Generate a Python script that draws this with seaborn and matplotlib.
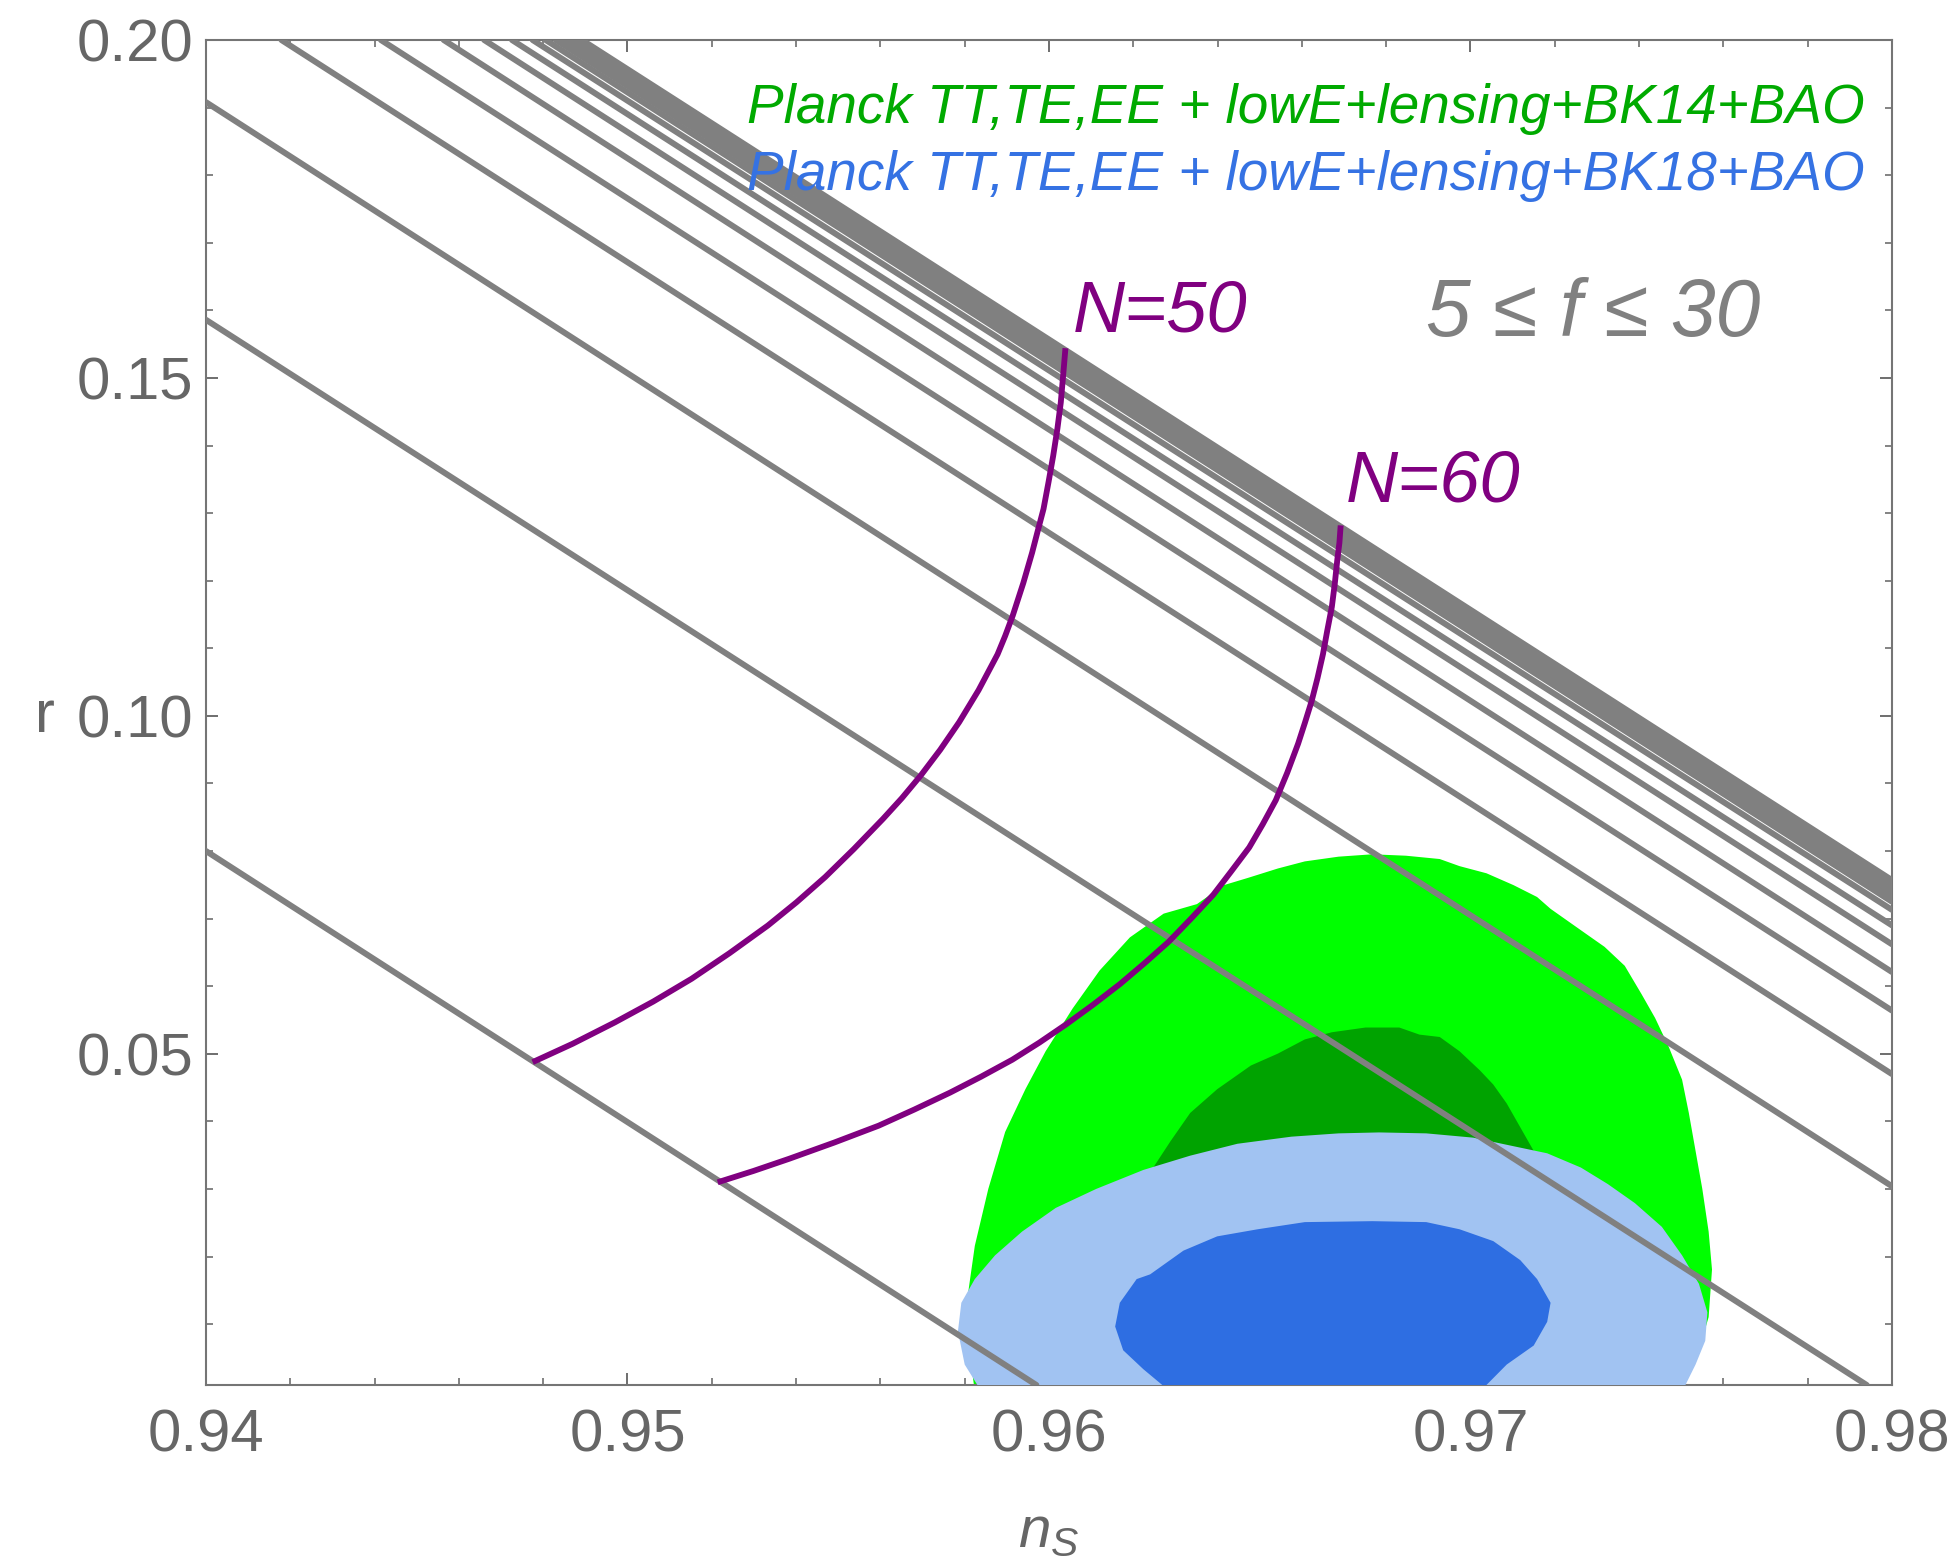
import numpy as np
import pandas as pd
import matplotlib
matplotlib.use("Agg")
import matplotlib.pyplot as plt
import seaborn as sns

# ---------------- data ----------------
x_ticks = [0.94, 0.95, 0.96, 0.97, 0.98]
x_tick_labels = ["0.94", "0.95", "0.96", "0.97", "0.98"]
y_ticks = [0.05, 0.10, 0.15, 0.20]
y_tick_labels = ["0.05", "0.10", "0.15", "0.20"]

# gray model lines (5 <= f <= 30): entry point and exit point on the frame
gray_ns_a = [0.9400, 0.9400, 0.9400, 0.94179, 0.94415, 0.94564, 0.94660, 0.94726,
             0.94775, 0.94806, 0.94830, 0.94845, 0.94860, 0.94870, 0.94878, 0.94885, 0.94892]
gray_r_a = [0.0800, 0.1586, 0.1908, 0.2000, 0.2000, 0.2000, 0.2000, 0.2000,
            0.2000, 0.2000, 0.2000, 0.2000, 0.2000, 0.2000, 0.2000, 0.2000, 0.2000]
gray_ns_b = [0.9597, 0.9794, 0.9800, 0.9800, 0.9800, 0.9800, 0.9800, 0.9800,
             0.9800, 0.9800, 0.9800, 0.9800, 0.9800, 0.9800, 0.9800, 0.9800, 0.9800]
gray_r_b = [0.0010, 0.0010, 0.0304, 0.0470, 0.0564, 0.0621, 0.0662, 0.0690,
            0.0713, 0.0725, 0.0732, 0.0738, 0.0744, 0.0748, 0.0751, 0.0754, 0.0757]

# purple N = 50 and N = 60 curves
ns_N50 = [0.94775, 0.94870, 0.94970, 0.95061, 0.95152, 0.95242, 0.95333, 0.95401,
          0.95469, 0.95537, 0.95606, 0.95651, 0.95696, 0.95742, 0.95787, 0.95833,
          0.95878, 0.95896, 0.95914, 0.95939, 0.95960, 0.95974, 0.95987, 0.95999,
          0.96010, 0.96020, 0.96028, 0.96035, 0.96039]
r_N50 = [0.04877, 0.05149, 0.05465, 0.05773, 0.06110, 0.06489, 0.06898, 0.07242,
         0.07615, 0.08030, 0.08475, 0.08783, 0.09120, 0.09499, 0.09908, 0.10381,
         0.10911, 0.11183, 0.11484, 0.11965, 0.12416, 0.12753, 0.13061, 0.13462,
         0.13849, 0.14251, 0.14638, 0.15139, 0.15440]
ns_N60 = [0.95214, 0.95299, 0.95384, 0.95490, 0.95596, 0.95680, 0.95765, 0.95839,
          0.95913, 0.95977, 0.96041, 0.96104, 0.96168, 0.96226, 0.96284, 0.96337,
          0.96390, 0.96432, 0.96475, 0.96507, 0.96538, 0.96565, 0.96591, 0.96607,
          0.96623, 0.96637, 0.96650, 0.96660, 0.96671, 0.96678, 0.96684, 0.96689,
          0.96692]
r_N60 = [0.03099, 0.03267, 0.03448, 0.03686, 0.03937, 0.04174, 0.04425, 0.04662,
         0.04913, 0.05165, 0.05437, 0.05723, 0.06030, 0.06337, 0.06658, 0.07000,
         0.07355, 0.07697, 0.08053, 0.08395, 0.08751, 0.09155, 0.09588, 0.09895,
         0.10216, 0.10558, 0.10914, 0.11255, 0.11611, 0.11953, 0.12309, 0.12560,
         0.12818]

# BK14 contours (green)
green_outer_ns = [0.95824, 0.95808, 0.95808, 0.95824, 0.95856, 0.95896, 0.95944, 0.95992,
                  0.96056, 0.96120, 0.96192, 0.96272, 0.96351, 0.96415, 0.96471, 0.96543,
                  0.96607, 0.96687, 0.96767, 0.96847, 0.96927, 0.96974, 0.97038, 0.97102,
                  0.97158, 0.97190, 0.97230, 0.97278, 0.97318, 0.97366, 0.97406, 0.97438,
                  0.97470, 0.97502, 0.97518, 0.97534, 0.97550, 0.97565, 0.97573, 0.97565,
                  0.97542, 0.97502]
green_outer_r = [0.0, 0.00754, 0.01456, 0.02159, 0.03001, 0.03844, 0.04476, 0.05038,
                 0.05670, 0.06232, 0.06723, 0.07074, 0.07215, 0.07496, 0.07601, 0.07742,
                 0.07847, 0.07917, 0.07952, 0.07931, 0.07882, 0.07777, 0.07671, 0.07496,
                 0.07320, 0.07145, 0.06969, 0.06758, 0.06583, 0.06302, 0.05881, 0.05530,
                 0.05108, 0.04617, 0.04125, 0.03563, 0.03001, 0.02369, 0.01808, 0.01105,
                 0.00614, 0.0]
green_inner_ns = [0.9616, 0.9616, 0.96192, 0.96240, 0.96288, 0.96335, 0.96399, 0.96479,
                  0.96543, 0.96607, 0.96671, 0.96751, 0.96831, 0.96879, 0.96927, 0.96974,
                  0.97022, 0.97054, 0.97086, 0.97118, 0.97150, 0.97174, 0.97198, 0.97206,
                  0.97182]
green_inner_r = [0.0, 0.0146, 0.0251, 0.03247, 0.03704, 0.04125, 0.04476, 0.04827,
                 0.05003, 0.05213, 0.05319, 0.05389, 0.05389, 0.05284, 0.05249, 0.05038,
                 0.04757, 0.04546, 0.04265, 0.03914, 0.03563, 0.03212, 0.0251, 0.0146,
                 0.0]

# BK18 contours (blue)
blue_outer_ns = [0.95840, 0.95800, 0.95784, 0.95792, 0.95824, 0.95872, 0.95936, 0.96016,
                 0.96112, 0.96224, 0.96335, 0.96447, 0.96575, 0.96687, 0.96783, 0.96895,
                 0.97006, 0.97102, 0.97182, 0.97262, 0.97326, 0.97390, 0.97454, 0.97502,
                 0.97542, 0.97562, 0.97557, 0.97534, 0.97502]
blue_outer_r = [0.0, 0.00403, 0.00895, 0.01316, 0.01667, 0.02018, 0.02369, 0.02720,
                0.03001, 0.03282, 0.03493, 0.03669, 0.03774, 0.03823, 0.03837, 0.03823,
                0.03760, 0.03633, 0.03528, 0.03317, 0.03072, 0.02791, 0.02440, 0.02018,
                0.01597, 0.01176, 0.00754, 0.00403, 0.0]
blue_inner_ns = [0.96288, 0.96224, 0.96176, 0.96157, 0.96168, 0.96208, 0.96240, 0.96319,
                 0.96399, 0.96495, 0.96607, 0.96767, 0.96895, 0.96974, 0.97054, 0.97118,
                 0.97158, 0.97190, 0.97182, 0.97150, 0.97086, 0.97022]
blue_inner_r = [0.0, 0.00333, 0.00614, 0.00965, 0.01316, 0.01667, 0.01737, 0.02088,
                0.02299, 0.02404, 0.02510, 0.02524, 0.02510, 0.02404, 0.02229, 0.01948,
                0.01667, 0.01316, 0.01035, 0.00684, 0.00403, 0.0]

legend_labels = ["Planck TT,TE,EE + lowE+lensing+BK14+BAO",
                 "Planck TT,TE,EE + lowE+lensing+BK18+BAO"]
curve_labels = ["N=50", "N=60"]
f_label = "5 \u2264 f \u2264 30"

# ---------------- styling ----------------
sns.set_theme(style="ticks")
plt.rcParams["font.family"] = ["Liberation Sans", "DejaVu Sans"]
plt.rcParams["mathtext.fontset"] = "custom"
plt.rcParams["mathtext.it"] = "Liberation Sans:italic"
plt.rcParams["mathtext.rm"] = "Liberation Sans"

GRAY = "#808080"
PURPLE = "#800080"
TXT = "#666666"

fig = plt.figure(figsize=(19.57, 15.65), dpi=100)
ax = fig.add_axes([0.10526, 0.11502, 0.86152, 0.85942])

# contours
ax.fill(green_outer_ns, green_outer_r, color="#00FF00", lw=0, zorder=1)
ax.fill(green_inner_ns, green_inner_r, color="#00A300", lw=0, zorder=2)
ax.fill(blue_outer_ns, blue_outer_r, color="#A1C3F2", lw=0, zorder=3)
ax.fill(blue_inner_ns, blue_inner_r, color="#2E6EE2", lw=0, zorder=4)

# gray lines
n_lines = len(gray_ns_a)
gray_df = pd.DataFrame({
    "line": np.repeat(np.arange(n_lines), 2),
    "ns": np.column_stack([gray_ns_a, gray_ns_b]).ravel(),
    "r": np.column_stack([gray_r_a, gray_r_b]).ravel(),
})
sns.lineplot(data=gray_df, x="ns", y="r", units="line", estimator=None, sort=False,
             color=GRAY, linewidth=4.3, ax=ax, legend=False, zorder=5)

# purple curves
purple_df = pd.DataFrame({
    "N": ["50"] * len(ns_N50) + ["60"] * len(ns_N60),
    "ns": ns_N50 + ns_N60,
    "r": r_N50 + r_N60,
})
sns.lineplot(data=purple_df, x="ns", y="r", units="N", estimator=None, sort=False,
             color=PURPLE, linewidth=4.2, ax=ax, legend=False, zorder=6,
             solid_capstyle="butt", solid_joinstyle="round")

# axes
ax.set_xlim(0.94, 0.98)
ax.set_ylim(0.001, 0.2)
ax.set_xticks(x_ticks)
ax.set_xticklabels(x_tick_labels)
ax.set_yticks(y_ticks)
ax.set_yticklabels(y_tick_labels)
ax.xaxis.set_minor_locator(matplotlib.ticker.MultipleLocator(0.002))
ax.yaxis.set_minor_locator(matplotlib.ticker.MultipleLocator(0.01))
ax.tick_params(which="both", direction="in", top=True, right=True, color="#6e6e6e")
ax.tick_params(which="major", length=8.6, width=1.4, labelsize=43, labelcolor=TXT)
ax.tick_params(which="minor", length=5, width=1.2)
ax.tick_params(axis="x", which="major", pad=17)
ax.tick_params(axis="y", which="major", pad=9)
for s in ax.spines.values():
    s.set_color("#757575")
    s.set_linewidth(1.5)

ax.set_xlabel(r"$n_S$", fontsize=42, color=TXT, va="baseline")
ax.xaxis.set_label_coords(0.5, -0.1204)
ax.set_ylabel("r", fontsize=43, color=TXT, rotation=0, ha="center", va="baseline")
ax.yaxis.set_label_coords(-0.0958, 0.4857)

# annotations
ax.text(0.97934, 0.18777, legend_labels[0], color="#00AA00", fontsize=39.5,
        style="italic", ha="right", va="baseline", zorder=10)
ax.text(0.97934, 0.17782, legend_labels[1], color="#3572E3", fontsize=39.5,
        style="italic", ha="right", va="baseline", zorder=10)
ax.text(0.96056, 0.15687, curve_labels[0], color=PURPLE, fontsize=52,
        style="italic", ha="left", va="baseline", zorder=10)
ax.text(0.96705, 0.13174, curve_labels[1], color=PURPLE, fontsize=52,
        style="italic", ha="left", va="baseline", zorder=10)
ax.text(0.96894, 0.15614, f_label, color=GRAY, fontsize=58,
        style="italic", ha="left", va="baseline", zorder=10)

fig.savefig("out.png", dpi=100, facecolor="white")
